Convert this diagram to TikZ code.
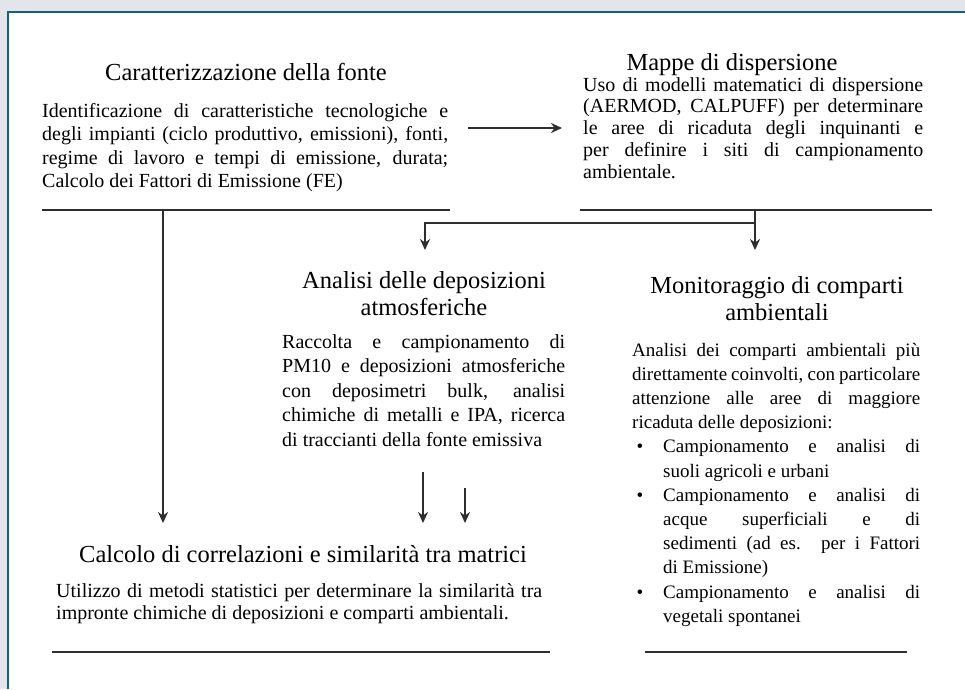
\documentclass[tikz,border=0pt]{standalone}
\usepackage{fontspec}
\setmainfont{Liberation Serif}
\usetikzlibrary{arrows.meta, positioning, calc}

\definecolor{sfondo}{HTML}{E3E5EA}
\definecolor{cornice}{HTML}{1B5E77}
\definecolor{linea}{HTML}{2E2E2E}

\hyphenpenalty=10000
\exhyphenpenalty=10000

\tikzset{
  titolo/.style={font=\fontsize{24.5}{27}\selectfont, align=center, inner sep=0pt, anchor=base},
  corpo/.style={font=\fontsize{20}{#1}\selectfont, align=justify, inner sep=0pt, anchor=base west},
  corpo/.default=23.5,
  base/.style={line width=2pt, draw=linea},
  freccia/.style={line width=1.8pt, draw=linea, -{Stealth[length=11pt,width=10pt]}},
}

\begin{document}
\begin{tikzpicture}[x=1pt, y=-1pt]
    \useasboundingbox (0,0) rectangle (965,689);
    % --- cornice ---
    \fill[sfondo] (0,0) rectangle (965,689);
    \fill[white] (7,11) rectangle (965,689);
    \draw[cornice, line width=2.5pt] (8,689) -- (8,12) -- (965,12);

    % --- fonte ---
    \node[titolo] (tA) at (246,80) {Caratterizzazione della fonte};
    \node[corpo, text width=406pt] (bA) at (42,117) {Identificazione di caratteristiche tecnologiche e degli impianti (ciclo produttivo, emissioni), fonti, regime di lavoro e tempi di emissione, durata; Calcolo dei Fattori di Emissione (FE)};
    \draw[base] (42,210) -- (450,210);

    % --- mappe ---
    \node[titolo] (tB) at (732,70) {Mappe di dispersione};
    \node[corpo=21.8, text width=340pt] (bB) at (583,91) {Uso di modelli matematici di dispersione (AERMOD, CALPUFF) per determinare le aree di ricaduta degli inquinanti e per definire i siti di campionamento ambientale.};
    \draw[base] (580,210) -- (932,210);

    % --- deposizioni ---
    \node[titolo] (tC) at (424,315) {Analisi delle deposizioni\\atmosferiche};
    \node[corpo=24.5, text width=283pt] (bC) at (282,348) {Raccolta e campionamento di PM10 e deposizioni atmosferiche con deposimetri bulk, analisi chimiche di metalli e IPA, ricerca di traccianti della fonte emissiva};

    % --- comparti ---
    \node[titolo] (tD) at (777,320) {Monitoraggio di comparti\\ambientali};
    \node[corpo=24.2, text width=288pt, font=\fontsize{19}{24.2}\selectfont] (bD) at (632,356) {Analisi dei comparti ambientali più direttamente coinvolti, con particolare attenzione alle aree di maggiore ricaduta delle deposizioni:\par
      \leftskip=31pt
      \leavevmode\llap{\textbullet\hspace{20pt}}Campionamento e analisi di\linebreak suoli agricoli e urbani\par
      \leavevmode\llap{\textbullet\hspace{20pt}}Campionamento e analisi di\linebreak acque superficiali e di\linebreak sedimenti (ad es. per i Fattori di Emissione)\par
      \leavevmode\llap{\textbullet\hspace{20pt}}Campionamento e analisi di\linebreak vegetali spontanei\par};
    \draw[base] (645,652) -- (907,652);

    % --- correlazioni ---
    \node[titolo] (tE) at (303,562) {Calcolo di correlazioni e similarità tra matrici};
    \node[corpo=22, text width=486pt] (bE) at (56,597) {Utilizzo di metodi statistici per determinare la similarità tra impronte chimiche di deposizioni e comparti ambientali.};
    \draw[base] (52,652) -- (550,652);

    % --- collegamenti ---
    \coordinate (uA) at (468,128);
    \coordinate (jA) at (163,210);
    \coordinate (jB) at (755,210);
    \coordinate (rB) at (755,223);
    \coordinate (pC) at (425,250);
    \coordinate (pD) at (755,250);
    \coordinate (uC1) at (423,472);
    \coordinate (uC2) at (465,488);
    \coordinate (pE) at (0,523);

    \draw[freccia, shorten >=21pt] (uA) -- (uA -| bB.west);
    \draw[freccia] (jA) -- (jA |- pE);
    \draw[freccia] (jB) -- (pD);
    \draw[freccia] (rB) -| (pC);
    \draw[freccia] (uC1) -- (uC1 |- pE);
    \draw[freccia] (uC2) -- (uC2 |- pE);
\end{tikzpicture}
\end{document}
